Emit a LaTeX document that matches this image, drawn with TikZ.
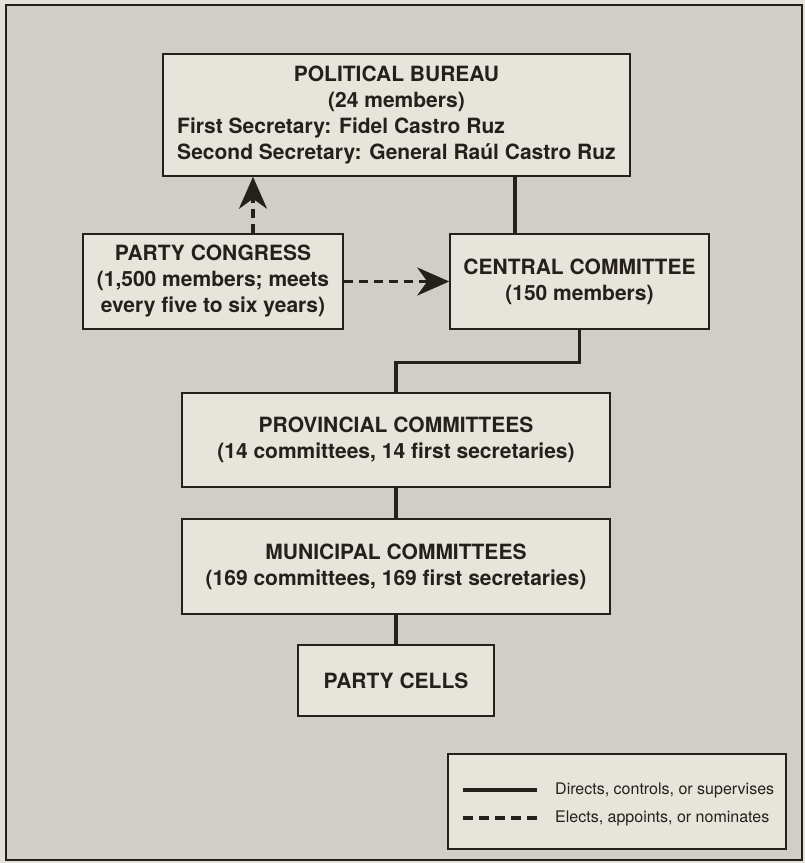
\documentclass[tikz,border=0pt]{standalone}
\usepackage{fontspec}
\setmainfont{TeX Gyre Heros}
\usepackage{tikz}
\usetikzlibrary{arrows.meta, positioning, calc}
\definecolor{pagebg}{RGB}{226, 224, 218}
\definecolor{framebg}{RGB}{208, 206, 198}
\definecolor{boxbg}{RGB}{231, 228, 219}
\definecolor{ink}{RGB}{38, 32, 28}

\begin{document}
\begin{tikzpicture}[
    x=1pt, y=-1pt,
    box/.style={draw=ink, line width=1.5pt, fill=boxbg, inner sep=0pt, align=center,
        font=\fontsize{21}{26}\selectfont\bfseries, text=ink},
    direct/.style={draw=ink, line width=3.3pt},
    elect/.style={draw=ink, line width=3.3pt, dash pattern=on 9pt off 6pt},
    arrow/.style={-{Stealth[length=32pt, width=28pt, inset=10pt]}},
    legendtext/.style={anchor=west, inner sep=0pt, font=\fontsize{16}{19}\selectfont, text=ink}
]
    \useasboundingbox (0,0) rectangle (805,863);
    \fill[pagebg] (0,0) rectangle (805,863);
    \draw[ink, line width=1.5pt, fill=framebg] (6,5) rectangle (802,860);

    % Organisation boxes
    \node[box, minimum width=467pt, minimum height=122pt] (bureau) at (396.5,115)
        {\begin{tabular}{@{}l@{}}
         \multicolumn{1}{@{}c@{}}{POLITICAL BUREAU}\\
         \multicolumn{1}{@{}c@{}}{(24 members)}\\
         First Secretary: Fidel Castro Ruz\\
         Second Secretary: General Raúl Castro Ruz
         \end{tabular}};
    \node[box, minimum width=260pt, minimum height=95pt] (congress) at (213,281.5)
        {PARTY CONGRESS\\(1,500 members; meets\\every five to six years)};
    \node[box, minimum width=259pt, minimum height=95pt] (central) at (579.5,281.5)
        {CENTRAL COMMITTEE\\(150 members)};
    \node[box, minimum width=428pt, minimum height=94pt] (provincial) at (396,440)
        {PROVINCIAL COMMITTEES\\(14 committees, 14 first secretaries)};
    \node[box, minimum width=428pt, minimum height=95pt] (municipal) at (396,566.5)
        {MUNICIPAL COMMITTEES\\(169 committees, 169 first secretaries)};
    \node[box, minimum width=196pt, minimum height=71pt] (cells) at (396,680.5)
        {PARTY CELLS};

    % Connectors
    \draw[elect, arrow] ([xshift=40pt]congress.north) -- ([xshift=40pt]congress.north |- bureau.south);
    \draw[direct] ([xshift=-64.5pt]central.north) -- ([xshift=-64.5pt]central.north |- bureau.south);
    \draw[elect, arrow] (congress.east) -- (central.west);
    \draw[direct] (central.south) -- ++(0,33) -| (provincial.north);
    \draw[direct] (provincial.south) -- (municipal.north);
    \draw[direct] (municipal.south) -- (cells.north);

    % Legend
    \node[box, minimum width=338pt, minimum height=95pt] (legend) at (617,801.5) {};
    \coordinate (directA) at (463,790);
    \coordinate (directB) at (537,790);
    \coordinate (electA) at (463,818);
    \coordinate (electB) at (537,818);
    \draw[direct, line width=4pt] (directA) -- (directB);
    \draw[elect, line width=4pt, dash pattern=on 10pt off 6pt] (electA) -- (electB);
    \node[legendtext] (directlabel) at (555,790) {Directs, controls, or supervises};
    \node[legendtext] (electlabel) at (555,818) {Elects, appoints, or nominates};
\end{tikzpicture}
\end{document}
